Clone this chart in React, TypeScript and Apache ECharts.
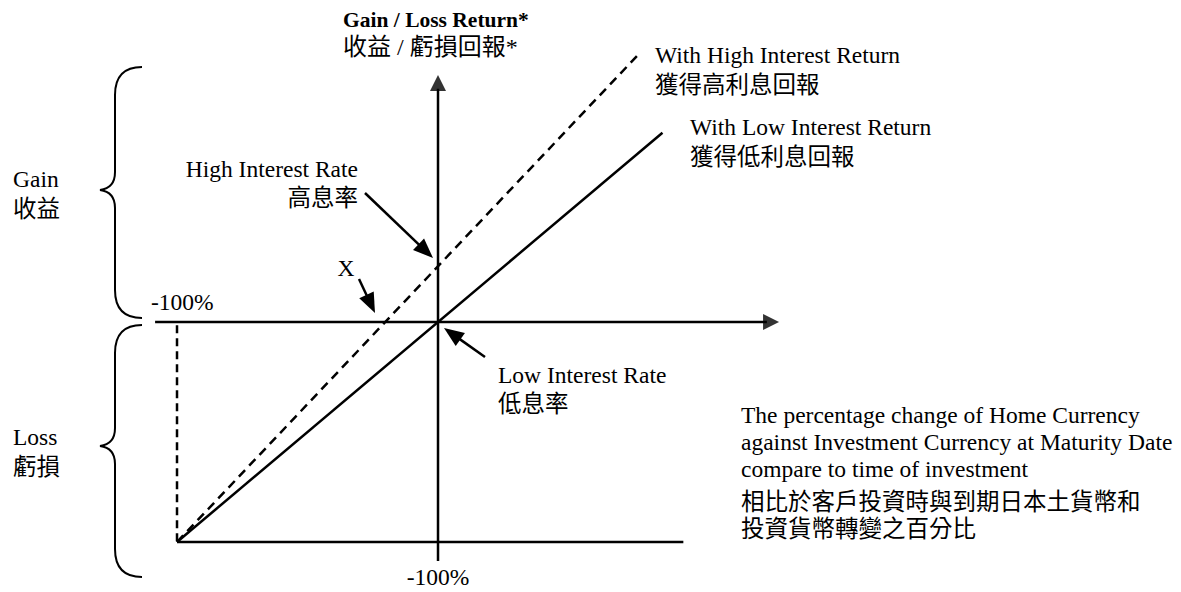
import React, { useEffect, useRef } from "react";
import * as echarts from "echarts";

// ---------- data (chart value space: -100% .. +) ----------
const lowReturnLine: number[][] = [[-100, -100], [86, 86]];
const highReturnLine: number[][] = [[-100, -100], [77.5, 122.5]];
const maturityDrop: number[][] = [[-100, -1.5], [-100, -100]];
const lossFloor: number[][] = [[-100, -100], [94, -100]];
const horizontalAxis: number[][] = [[-108.4, 0], [126, 0]];
const verticalAxis: number[][] = [[0, -108.6], [0, 106]];
const horizontalArrowHead: number[][] = [[127.6, 0]];
const verticalArrowHead: number[][] = [[0, 108.6]];

// ---------- texts ----------
const titleEn = "Gain / Loss Return*";
const titleZh = "收益 / 虧損回報*";
const highReturnEn = "With High Interest Return";
const highReturnZh = "獲得高利息回報";
const lowReturnEn = "With Low Interest Return";
const lowReturnZh = "獲得低利息回報";
const highRateEn = "High Interest Rate";
const highRateZh = "高息率";
const lowRateEn = "Low Interest Rate";
const lowRateZh = "低息率";
const xLabel = "X";
const tickLabel = "-100%";
const gainEn = "Gain";
const gainZh = "收益";
const lossEn = "Loss";
const lossZh = "虧損";
const noteLines = [
  "The percentage change of Home Currency",
  "against Investment Currency at Maturity Date",
  "compare to time of investment",
  "相比於客戶投資時與到期日本土貨幣和",
  "投資貨幣轉變之百分比",
];

// ---------- layout ----------
const W = 1181;
const H = 592;
const X_MIN = -167.82;
const X_MAX = 284.67;
const Y_MIN = -122.73;
const Y_MAX = 146.36;

const SERIF = "'Liberation Serif', 'Times New Roman', serif";
const CJK = "'Noto Sans CJK TC', 'Noto Sans CJK SC', sans-serif";
const MIXED = "'Liberation Serif', 'Noto Sans CJK TC', serif";
const INK = "#000";
const EN = 23.5;
const ZH = 23.5;

function braceD(yT: number, yM: number, yB: number): string {
  return [
    `M142 ${yT}`,
    `C125 ${yT} 115 ${yT + 8} 115 ${yT + 28}`,
    `L115 ${yM - 18}`,
    `C115 ${yM - 6} 108 ${yM - 1} 100 ${yM}`,
    `C108 ${yM + 1} 115 ${yM + 6} 115 ${yM + 18}`,
    `L115 ${yB - 28}`,
    `C115 ${yB - 8} 125 ${yB} 142 ${yB}`,
  ].join(" ");
}

let registered = false;
function registerShapes() {
  if (registered) return;
  registered = true;
  echarts.graphic.registerShape(
    "braceGain",
    echarts.graphic.extendPath(braceD(67, 190, 318), {}) as any
  );
  echarts.graphic.registerShape(
    "braceLoss",
    echarts.graphic.extendPath(braceD(325, 446, 577), {}) as any
  );
}

function arrow(x1: number, y1: number, x2: number, y2: number, len = 20, half = 8) {
  const dx = x2 - x1;
  const dy = y2 - y1;
  const d = Math.sqrt(dx * dx + dy * dy);
  const ux = dx / d;
  const uy = dy / d;
  const bx = x2 - ux * len;
  const by = y2 - uy * len;
  const px = -uy;
  const py = ux;
  return [
    {
      type: "line",
      silent: true,
      shape: { x1, y1, x2: bx + ux * 2, y2: by + uy * 2 },
      style: { stroke: INK, lineWidth: 2.5 },
    },
    {
      type: "polygon",
      silent: true,
      shape: {
        points: [
          [x2, y2],
          [bx + px * half, by + py * half],
          [bx - px * half, by - py * half],
        ],
      },
      style: { fill: INK },
    },
  ];
}

function txt(
  text: string,
  x: number,
  y: number,
  opts: { size?: number; family?: string; weight?: string; align?: string } = {}
) {
  return {
    type: "text",
    silent: true,
    x,
    y,
    style: {
      text,
      fill: INK,
      fontSize: opts.size ?? EN,
      fontFamily: opts.family ?? SERIF,
      fontWeight: opts.weight ?? "normal",
      textAlign: opts.align ?? "left",
      textVerticalAlign: "middle",
      textBaseline: "middle",
    },
  };
}

export default function App() {
  const ref = useRef<HTMLDivElement>(null);

  useEffect(() => {
    if (!ref.current) return;
    registerShapes();
    const chart = echarts.init(ref.current, undefined, { renderer: "svg" });

    const lineSeries = (name: string, data: number[][], type: any, width = 2.5) => ({
      name,
      type: "line",
      data,
      showSymbol: false,
      symbol: "none",
      silent: true,
      lineStyle: { color: INK, width, type },
      emphasis: { disabled: true },
      z: 3,
    });

    const zh = { size: ZH, family: CJK };

    const graphics: any[] = [
      { type: "braceGain", silent: true, x: 0, y: 0, style: { stroke: INK, fill: "none", lineWidth: 2 } },
      { type: "braceLoss", silent: true, x: 0, y: 0, style: { stroke: INK, fill: "none", lineWidth: 2 } },
      ...arrow(365, 193, 433, 258),
      ...arrow(359, 279, 375, 313),
      ...arrow(485, 357, 444, 328),
      txt(titleEn, 343, 20, { size: 21.5, weight: "bold" }),
      txt(titleZh, 343, 47, { size: 24, family: MIXED }),
      txt(highReturnEn, 655, 55),
      txt(highReturnZh, 655, 83, zh),
      txt(lowReturnEn, 690, 127),
      txt(lowReturnZh, 690, 155, zh),
      txt(highRateEn, 358, 169, { align: "right" }),
      txt(highRateZh, 358, 196, { ...zh, align: "right" }),
      txt(xLabel, 346, 268, { align: "center" }),
      txt(tickLabel, 151, 302),
      txt(gainEn, 13, 179),
      txt(gainZh, 13, 207, zh),
      txt(lossEn, 13, 437),
      txt(lossZh, 13, 465, zh),
      txt(lowRateEn, 498, 375),
      txt(lowRateZh, 498, 402, zh),
      txt(noteLines[0], 741, 415),
      txt(noteLines[1], 741, 442),
      txt(noteLines[2], 741, 469),
      txt(noteLines[3], 741, 500, zh),
      txt(noteLines[4], 741, 527, zh),
      txt(tickLabel, 438, 577, { align: "center" }),
    ];

    chart.setOption({
      animation: false,
      backgroundColor: "#fff",
      grid: { left: 0, right: 0, top: 0, bottom: 0, containLabel: false },
      xAxis: { type: "value", min: X_MIN, max: X_MAX, show: false },
      yAxis: { type: "value", min: Y_MIN, max: Y_MAX, show: false },
      tooltip: { show: false },
      series: [
        lineSeries("axisX", horizontalAxis, "solid"),
        lineSeries("axisY", verticalAxis, "solid"),
        lineSeries("floor", lossFloor, "solid"),
        lineSeries("drop", maturityDrop, [8, 5]),
        lineSeries("low", lowReturnLine, "solid"),
        lineSeries("high", highReturnLine, [9, 6]),
        {
          name: "arrowX",
          type: "scatter",
          data: horizontalArrowHead,
          symbol: "triangle",
          symbolSize: [16, 16],
          symbolRotate: -90,
          silent: true,
          itemStyle: { color: INK },
          z: 4,
        },
        {
          name: "arrowY",
          type: "scatter",
          data: verticalArrowHead,
          symbol: "triangle",
          symbolSize: [16, 16],
          symbolRotate: 0,
          silent: true,
          itemStyle: { color: INK },
          z: 4,
        },
      ],
      graphic: graphics,
    });

    return () => chart.dispose();
  }, []);

  return (
    <div
      ref={ref}
      style={{ position: "absolute", left: 0, top: 0, width: W, height: H, background: "#fff" }}
    />
  );
}
